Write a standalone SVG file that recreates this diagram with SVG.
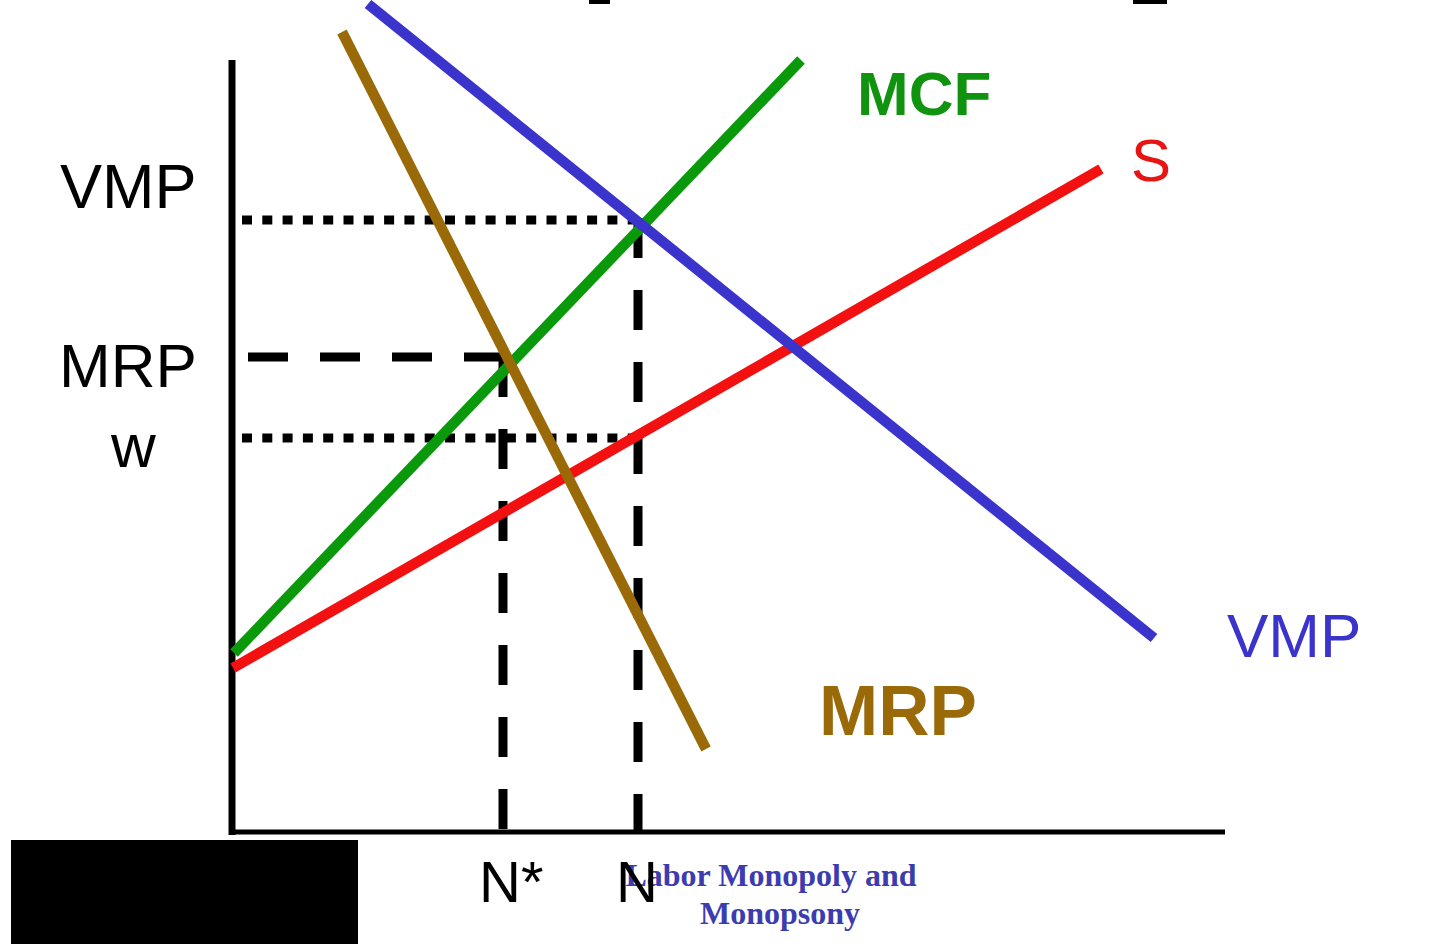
<svg xmlns="http://www.w3.org/2000/svg" width="1450" height="944" viewBox="0 0 1450 944">
<style>
.lbl{font-family:"Liberation Sans",Arial,sans-serif;}
.curve{stroke-width:10.5;stroke-linecap:butt;fill:none;}
.dot{stroke:#000;stroke-width:9;stroke-dasharray:10 10.3;fill:none;}
.dash{stroke:#000;stroke-width:9;stroke-dasharray:40 32;fill:none;}
.axis{stroke:#000;fill:none;}
</style>
<rect width="1450" height="944" fill="#fff"/>
<rect x="589" y="0" width="21" height="4" fill="#000"/>
<rect x="1133" y="0" width="34" height="4" fill="#000"/>
<g id="axes">
<line class="axis" x1="232" y1="60" x2="232" y2="835" stroke-width="7"/>
<line class="axis" x1="229" y1="832" x2="1225" y2="832" stroke-width="5"/>
</g>
<g id="connectors">
<line class="dot" x1="242" y1="220" x2="636" y2="220"/>
<line class="dot" x1="242" y1="438" x2="636" y2="438"/>
<line class="dash" x1="248" y1="357" x2="507" y2="357"/>
<line class="dash" x1="503" y1="357" x2="503" y2="830"/>
<line class="dash" x1="638" y1="218" x2="638" y2="830"/>
</g>
<g id="curve-S"><line class="curve" stroke="#f21010" x1="233" y1="668" x2="1101" y2="169"/></g>
<g id="curve-MCF"><line class="curve" stroke="#0a990a" x1="234" y1="653" x2="801" y2="60"/></g>
<g id="curve-VMP"><line class="curve" stroke="#3a33cc" x1="368" y1="4" x2="1154" y2="638"/></g>
<g id="curve-MRP"><line class="curve" stroke="#9a6a08" x1="342" y1="32" x2="706" y2="749"/></g>
<g id="title">
<text font-family="'Liberation Serif','Times New Roman',serif" font-weight="bold" font-size="32" fill="#3c3cae" text-anchor="middle">
<tspan x="775" y="886">Labor Monopoly and</tspan>
<tspan x="780" y="924">Monopsony</tspan>
</text>
</g>
<g id="labels-y">
<text class="lbl" x="60" y="208" font-size="63" fill="#000">VMP</text>
<text class="lbl" x="59" y="387" font-size="62" fill="#000">MRP</text>
<text class="lbl" x="111" y="467" font-size="62" fill="#000">w</text>
</g>
<g id="labels-x">
<text class="lbl" x="479" y="902" font-size="58" fill="#000">N*</text>
<text class="lbl" x="616" y="902" font-size="58" fill="#000">N</text>
</g>
<g id="label-MCF"><text class="lbl" x="857" y="115" font-size="62" font-weight="bold" fill="#109410">MCF</text></g>
<g id="label-S"><text class="lbl" x="1131" y="181" font-size="60" fill="#e81414">S</text></g>
<g id="label-VMP"><text class="lbl" x="1227" y="657" font-size="62" fill="#3a33cc">VMP</text></g>
<g id="label-MRP"><text class="lbl" x="819" y="735" font-size="71" font-weight="bold" fill="#9a6a08">MRP</text></g>
<rect id="blackbox" x="11" y="840" width="347" height="104" fill="#000"/>
</svg>
